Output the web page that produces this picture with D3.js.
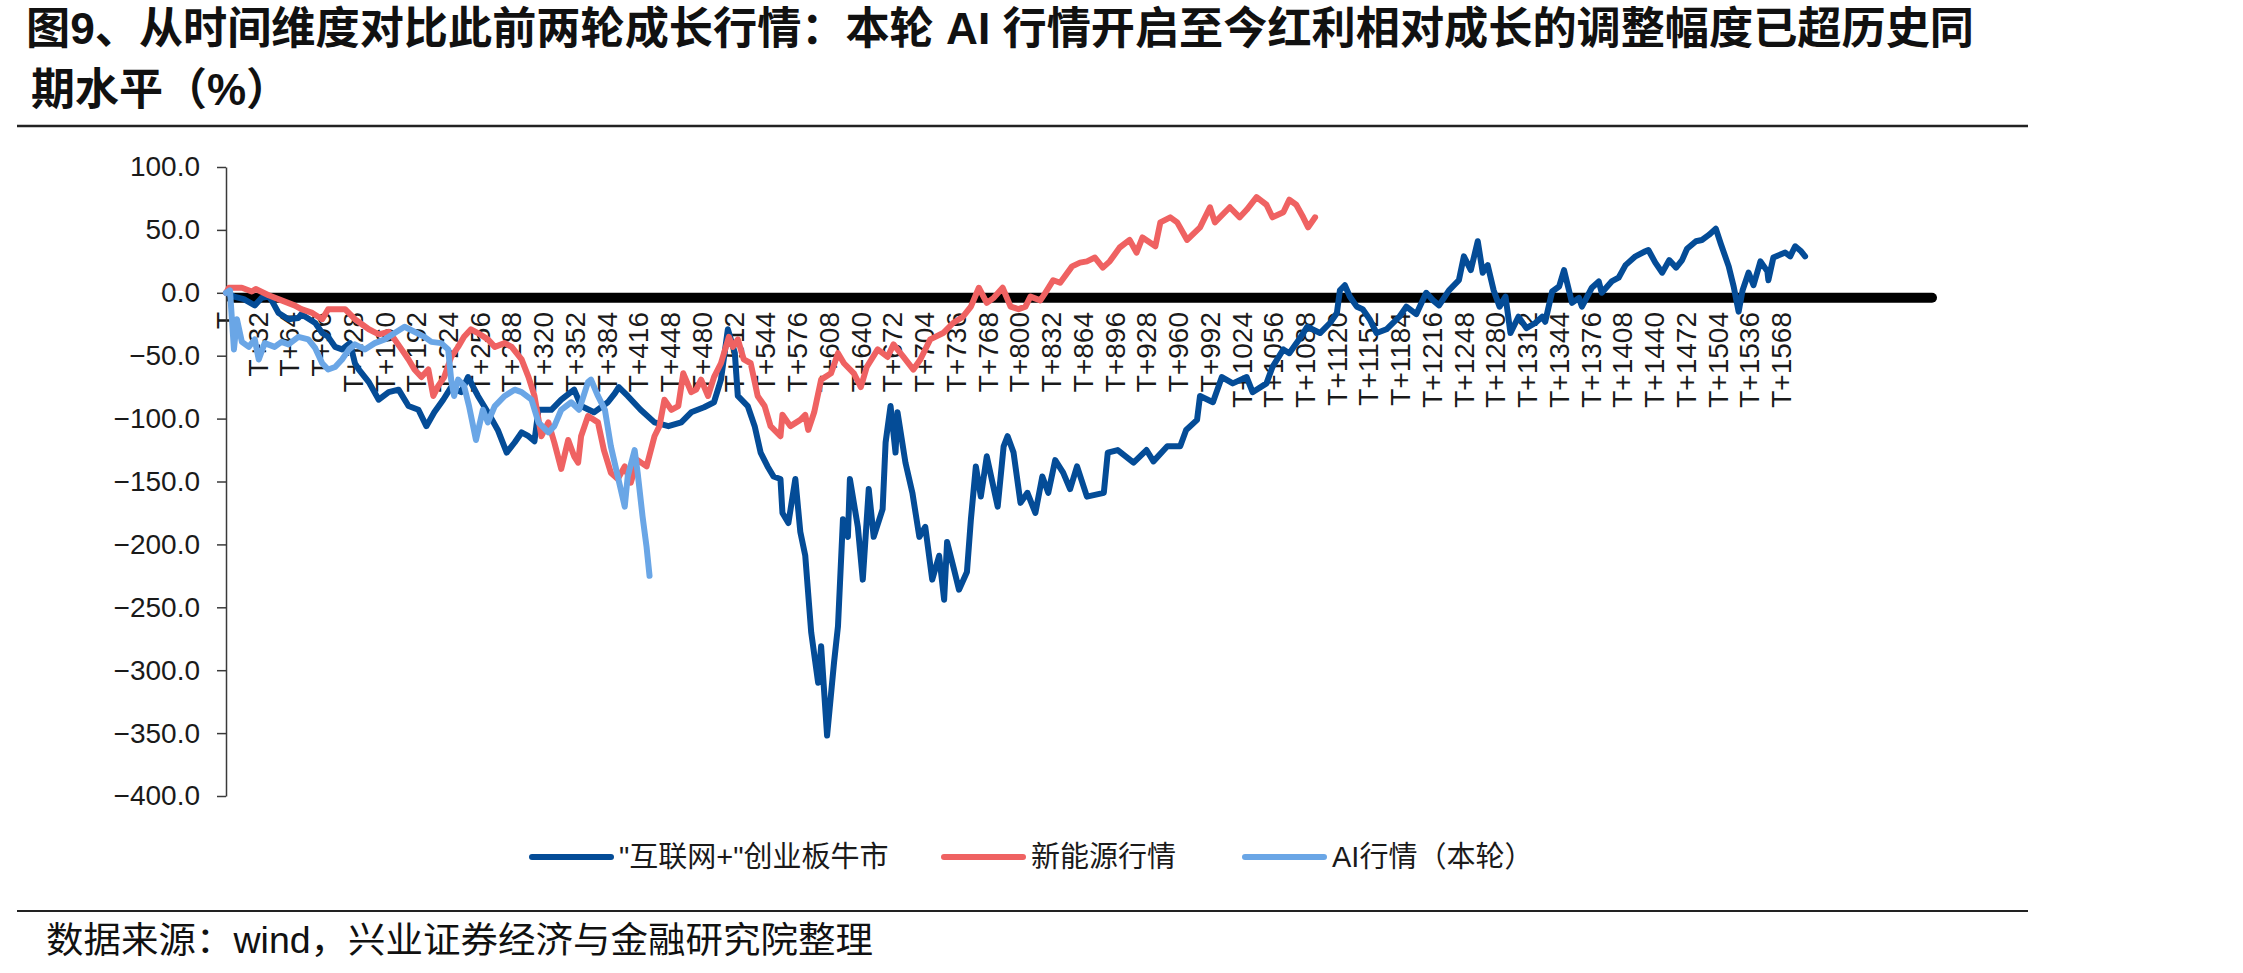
<!DOCTYPE html>
<html lang="zh">
<head>
  <meta charset="UTF-8">
  <script src="https://cdn.jsdelivr.net/npm/d3@7/dist/d3.min.js"></script>
  <title>红利相对成长调整幅度</title>
  <style>
    body { margin: 0; background: #fff; }
    svg { display: block; background: #fff; font-family: "Liberation Sans", Arial, "Noto Sans CJK SC", sans-serif; }
    .axis path, .axis line { stroke: #3a3a3a; stroke-width: 1.5; fill: none; }
    .axis text { font-size: 28px; fill: #1a1a1a; }
    .cat { font-size: 28px; fill: #1a1a1a; }
    .series { fill: none; stroke-width: 6; stroke-linejoin: round; stroke-linecap: round; }
  </style>
</head>
<body>
<div id="chart"></div>
<script>
  var width = 2243, height = 973;

  // y axis ticks
  var yTicks = [100, 50, 0, -50, -100, -150, -200, -250, -300, -350, -400];

  // category labels shown on the axis (trading days after T)
  var catLabels = [0, 32, 64, 96, 128, 160, 192, 224, 256, 288, 320, 352, 384, 416, 448, 480,
    512, 544, 576, 608, 640, 672, 704, 736, 768, 800, 832, 864, 896, 928, 960, 992, 1024,
    1056, 1088, 1120, 1152, 1184, 1216, 1248, 1280, 1312, 1344, 1376, 1408, 1440, 1472,
    1504, 1536, 1568];
  var catCount = 1725;

  var seriesNames = ['"互联网+"创业板牛市', '新能源行情', 'AI行情（本轮）'];
  var seriesColors = ["#044c97", "#ef6262", "#6aa6e6"];

  // [day, value %]
  var internetBull = [[0,0],[8,-3],[18,-5],[29,-10],[36,-4],[43,-3],[46,-6],[53,-16],[59,-19],[63,-21],
    [73,-20],[76,-17],[90,-24],[97,-32],[103,-35],[110,-43],[117,-45],[125,-40],[130,-56],[134,-61],
    [144,-71],[154,-85],[164,-79],[174,-77],[184,-90],[194,-93],[202,-106],[210,-95],[219,-85],[227,-75],
    [237,-79],[244,-67],[254,-82],[264,-95],[274,-109],[283,-127],[291,-119],[298,-111],[305,-114],[311,-118],
    [315,-93],[328,-93],[338,-85],[351,-77],[358,-90],[371,-95],[385,-87],[392,-80],[396,-75],[405,-82],
    [418,-93],[432,-103],[446,-106],[459,-103],[469,-95],[482,-91],[492,-87],[499,-69],[506,-29],[513,-48],
    [516,-82],[526,-90],[533,-106],[539,-127],[546,-138],[552,-146],[559,-148],[561,-175],[567,-183],[574,-148],
    [579,-190],[584,-209],[590,-270],[597,-310],[600,-281],[606,-352],[613,-294],[617,-265],[622,-180],[627,-194],
    [629,-148],[637,-186],[642,-228],[648,-156],[653,-194],[662,-172],[665,-119],[670,-90],[675,-127],[677,-95],
    [685,-135],[692,-159],[699,-194],[705,-186],[712,-228],[719,-209],[724,-244],[727,-198],[734,-220],[739,-236],
    [747,-222],[751,-180],[756,-138],[761,-162],[767,-130],[778,-170],[784,-122],[788,-114],[794,-127],[801,-167],
    [808,-159],[816,-175],[823,-146],[829,-159],[836,-133],[844,-143],[851,-156],[858,-138],[868,-162],[885,-159],
    [889,-127],[899,-125],[915,-135],[928,-125],[935,-134],[949,-122],[962,-122],[968,-109],[979,-101],[982,-82],
    [995,-87],[1004,-67],[1015,-72],[1029,-67],[1035,-79],[1049,-72],[1055,-59],[1066,-45],[1072,-48],[1082,-37],
    [1090,-27],[1103,-32],[1113,-24],[1120,-16],[1123,2],[1128,6],[1133,-3],[1140,-11],[1146,-13],[1153,-21],
    [1160,-32],[1170,-29],[1183,-19],[1190,-11],[1200,-17],[1210,0],[1217,-6],[1223,-10],[1233,2],[1243,10],
    [1248,29],[1255,18],[1262,41],[1267,16],[1272,22],[1278,2],[1284,-11],[1290,-3],[1295,-32],[1303,-19],
    [1311,-28],[1320,-24],[1327,-19],[1330,-23],[1337,1],[1344,5],[1349,18],[1357,-8],[1364,-4],[1367,-11],
    [1377,4],[1384,9],[1387,0],[1397,9],[1404,12],[1411,22],[1421,29],[1431,33],[1434,34],[1441,24],
    [1448,16],[1455,26],[1462,20],[1468,26],[1473,35],[1482,41],[1488,42],[1495,46],[1502,51],[1507,39],
    [1515,21],[1520,5],[1525,-15],[1529,2],[1535,16],[1540,6],[1547,25],[1554,17],[1555,10],[1560,28],
    [1572,32],[1577,29],[1582,37],[1588,33],[1592,29]];

  var newEnergy = [[0,0],[3,4],[16,4],[26,1],[30,3],[43,-2],[56,-6],[69,-10],[76,-13],[87,-16],
    [97,-21],[103,-13],[113,-13],[120,-13],[130,-21],[137,-25],[144,-29],[154,-33],[164,-31],[170,-37],
    [177,-45],[184,-53],[190,-61],[197,-67],[204,-61],[209,-82],[214,-74],[220,-67],[227,-51],[234,-43],
    [240,-35],[247,-29],[254,-32],[264,-37],[271,-43],[281,-40],[288,-43],[298,-53],[305,-67],[311,-82],
    [318,-114],[325,-103],[331,-119],[338,-140],[345,-117],[351,-130],[355,-135],[358,-114],[365,-98],[375,-103],
    [381,-125],[388,-143],[395,-148],[402,-138],[408,-151],[415,-133],[424,-138],[432,-114],[437,-106],[442,-85],
    [449,-93],[456,-90],[461,-64],[469,-79],[474,-77],[479,-69],[486,-82],[492,-67],[499,-56],[507,-35],
    [511,-43],[516,-37],[522,-53],[529,-56],[536,-82],[543,-90],[549,-106],[559,-114],[561,-97],[569,-106],
    [579,-101],[584,-97],[587,-109],[593,-95],[600,-69],[610,-64],[617,-48],[623,-56],[633,-64],[640,-75],
    [646,-59],[657,-45],[667,-51],[673,-41],[683,-51],[693,-61],[700,-53],[710,-37],[723,-32],[733,-24],
    [743,-19],[751,-11],[759,4],[767,-8],[774,-4],[783,4],[791,-11],[799,-13],[806,-11],[811,-3],
    [821,-6],[826,0],[834,10],[841,8],[853,21],[861,24],[868,25],[876,28],[884,20],[891,25],
    [901,36],[911,42],[918,32],[924,44],[937,37],[942,56],[952,60],[959,56],[969,42],[982,52],
    [992,68],[997,56],[1012,68],[1022,60],[1029,66],[1039,76],[1049,70],[1055,60],[1066,64],[1072,74],
    [1079,70],[1086,60],[1091,52],[1098,60]];

  var aiRound = [[0,0],[4,2],[8,-45],[11,-21],[16,-39],[23,-43],[29,-37],[33,-53],[39,-40],[49,-43],
    [56,-39],[63,-41],[73,-35],[83,-37],[90,-44],[97,-56],[103,-61],[110,-59],[117,-53],[124,-45],
    [130,-41],[140,-45],[150,-40],[160,-37],[170,-32],[180,-27],[190,-31],[200,-35],[207,-39],[217,-40],
    [224,-45],[227,-69],[230,-82],[234,-69],[240,-74],[245,-90],[252,-117],[259,-93],[264,-103],[271,-90],
    [281,-82],[291,-77],[298,-79],[308,-85],[315,-103],[325,-111],[331,-106],[338,-93],[348,-87],[356,-93],
    [365,-71],[368,-69],[375,-82],[382,-93],[388,-122],[395,-146],[402,-170],[405,-146],[412,-125],[415,-143],
    [420,-178],[424,-202],[427,-225]];

  var allSeries = [internetBull, newEnergy, aiRound];

  var svg = d3.select("#chart").append("svg")
    .attr("width", width)
    .attr("height", height);

  var xScale = d3.scaleLinear().domain([0, catCount]).range([226, 1937]);
  var yScale = d3.scaleLinear().domain([-400, 100]).range([796, 167]);

  // title
  svg.append("text")
    .attr("x", 26).attr("y", 44)
    .attr("textLength", 1948).attr("lengthAdjust", "spacingAndGlyphs")
    .style("font-size", "44px").style("font-weight", "bold").style("fill", "#111")
    .text("图9、从时间维度对比此前两轮成长行情：本轮  AI  行情开启至今红利相对成长的调整幅度已超历史同");
  svg.append("text")
    .attr("x", 31).attr("y", 105)
    .style("font-size", "44px").style("font-weight", "bold").style("fill", "#111")
    .text("期水平（%）");

  svg.append("line")
    .attr("x1", 17).attr("x2", 2028).attr("y1", 126).attr("y2", 126)
    .style("stroke", "#222").style("stroke-width", 2.5);

  // category labels, rotated
  svg.append("g").selectAll("text")
    .data(catLabels)
    .enter()
    .append("text")
    .attr("class", "cat")
    .attr("transform", function(d) { return "translate(" + xScale(d) + ",312) rotate(-90)"; })
    .attr("dy", "0.35em")
    .style("text-anchor", "end")
    .text(function(d) { return d === 0 ? "T" : "T+" + d; });

  // thick zero line
  svg.append("line")
    .attr("x1", 231).attr("x2", 1932)
    .attr("y1", yScale(0) + 5).attr("y2", yScale(0) + 5)
    .style("stroke", "#000").style("stroke-width", 10).style("stroke-linecap", "round");

  // y axis
  svg.append("g")
    .attr("class", "axis")
    .attr("transform", "translate(226,0)")
    .call(d3.axisLeft(yScale).tickValues(yTicks).tickSize(9).tickSizeOuter(0).tickPadding(17)
      .tickFormat(d3.format(".1f")));
  svg.select(".axis").selectAll("text").style("font-family", "'Liberation Sans', Arial, sans-serif");

  // the three lines
  var line = d3.line()
    .x(function(d) { return xScale(d[0]); })
    .y(function(d) { return yScale(d[1]); });

  svg.append("g").selectAll("path")
    .data(allSeries)
    .enter()
    .append("path")
    .attr("class", "series")
    .attr("d", line)
    .style("stroke", function(d, i) { return seriesColors[i]; });

  // legend
  var legendX = [532, 944, 1245];
  var legend = svg.append("g").selectAll("g")
    .data(seriesNames)
    .enter()
    .append("g")
    .attr("transform", function(d, i) { return "translate(" + legendX[i] + ",857)"; });
  legend.append("line")
    .attr("x1", 0).attr("x2", 79)
    .style("stroke", function(d, i) { return seriesColors[i]; })
    .style("stroke-width", 6).style("stroke-linecap", "round");
  legend.append("text")
    .attr("x", 87).attr("y", 10)
    .style("font-size", "29px").style("fill", "#1a1a1a")
    .text(function(d) { return d; });

  // source
  svg.append("line")
    .attr("x1", 17).attr("x2", 2028).attr("y1", 911).attr("y2", 911)
    .style("stroke", "#222").style("stroke-width", 2);
  svg.append("text")
    .attr("x", 46).attr("y", 953)
    .attr("textLength", 827).attr("lengthAdjust", "spacingAndGlyphs")
    .style("font-size", "36px").style("fill", "#111")
    .text("数据来源：wind，兴业证券经济与金融研究院整理");
</script>
</body>
</html>
